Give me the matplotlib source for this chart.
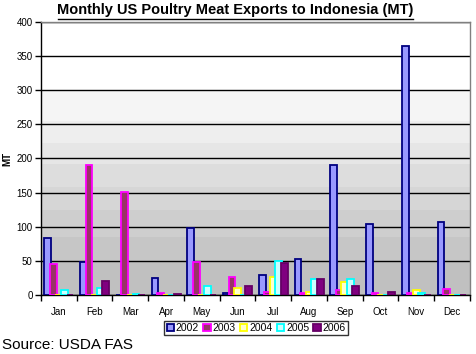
import matplotlib
matplotlib.use("Agg")
import matplotlib.pyplot as plt
import numpy as np

plt.rcParams['font.family'] = ['Liberation Sans', 'DejaVu Sans']

months = ["Jan", "Feb", "Mar", "Apr", "May", "Jun", "Jul", "Aug", "Sep", "Oct", "Nov", "Dec"]
years = ["2002", "2003", "2004", "2005", "2006"]

# values (MT)
exp_2002 = [83, 48, 0, 25, 98, 3, 29, 53, 190, 104, 365, 107]
exp_2003 = [45, 190, 151, 3, 48, 27, 5, 3, 8, 3, 3, 9]
exp_2004 = [0, 0, 0, 0, 0, 10, 26, 5, 19, 0, 7, 0]
exp_2005 = [7, 10, 1, 0, 13, 0, 50, 23, 23, 0, 3, 0]
exp_2006 = [0, 20, 0, 2, 0, 13, 47, 23, 13, 5, 0, 0]
series = [exp_2002, exp_2003, exp_2004, exp_2005, exp_2006]

edge_cols = ["#000080", "#ff00ff", "#ffff00", "#00ffff", "#660066"]
face_cols = ["#9999ff", "#993366", "#ffffcc", "#ccffff", "#800080"]

fig = plt.figure(figsize=(4.77, 3.54), dpi=100)
ax = fig.add_axes([0.086, 0.1667, 0.899, 0.7712])

# stepped grey gradient background
bands = [(300, 400, "#ffffff"), (255, 300, "#f5f5f5"), (223, 255, "#eeeeee"),
         (192, 223, "#e6e6e6"), (158, 192, "#dddddd"), (125, 158, "#d6d6d6"),
         (85, 125, "#cecece"), (50, 85, "#c6c6c6"), (0, 50, "#c0c0c0")]
for lo, hi, c in bands:
    ax.axhspan(lo, hi, color=c, zorder=0, lw=0)

x = np.arange(len(months))
step = 0.155
width = 0.19
for i, vals in enumerate(series):
    ax.bar(x + (i - 2) * step, vals, width=width, color=face_cols[i],
           edgecolor=edge_cols[i], linewidth=1.3, label=years[i], zorder=3)

ax.set_ylim(0, 400)
ax.set_xlim(-0.5, 11.5)
ax.set_yticks(range(0, 401, 50))
ax.yaxis.grid(True, color="black", linewidth=1.0, zorder=1)
ax.set_axisbelow(True)

ax.set_xticks(np.arange(-0.5, 12, 1))
ax.set_xticklabels([])
ax.set_xticks(x, minor=True)
ax.set_xticklabels(months, minor=True)
ax.tick_params(axis='x', which='major', direction='out', length=4, width=1, color='black')
ax.tick_params(axis='x', which='minor', length=0, pad=9, labelsize=7)
ax.tick_params(axis='y', direction='out', length=4, width=1, labelsize=7, pad=2)

for s in ["left", "bottom"]:
    ax.spines[s].set_color("black")
    ax.spines[s].set_linewidth(1.0)
for s in ["top", "right"]:
    ax.spines[s].set_color("#808080")
    ax.spines[s].set_linewidth(1.0)

ax.set_ylabel("MT", fontsize=7, fontweight='bold', labelpad=3)

fig.text(0.494, 0.972, "Monthly US Poultry Meat Exports to Indonesia (MT)",
         ha='center', va='center', fontsize=10.5, fontweight='bold')
# underline for title
fig.add_artist(plt.Line2D([0.122, 0.866], [0.946, 0.946], color='black', lw=1.0,
                          transform=fig.transFigure))

leg = fig.legend(loc='center', bbox_to_anchor=(0.537, 0.073), ncol=5, fontsize=7.5,
                 frameon=True, fancybox=False, edgecolor='black', handlelength=0.7,
                 handleheight=0.7, handletextpad=0.2, columnspacing=0.4,
                 borderpad=0.2, borderaxespad=0)
leg.get_frame().set_linewidth(1.0)

fig.text(0.004, 0.025, "Source: USDA FAS", ha='left', va='center', fontsize=11)

fig.savefig("out.png", dpi=100)
